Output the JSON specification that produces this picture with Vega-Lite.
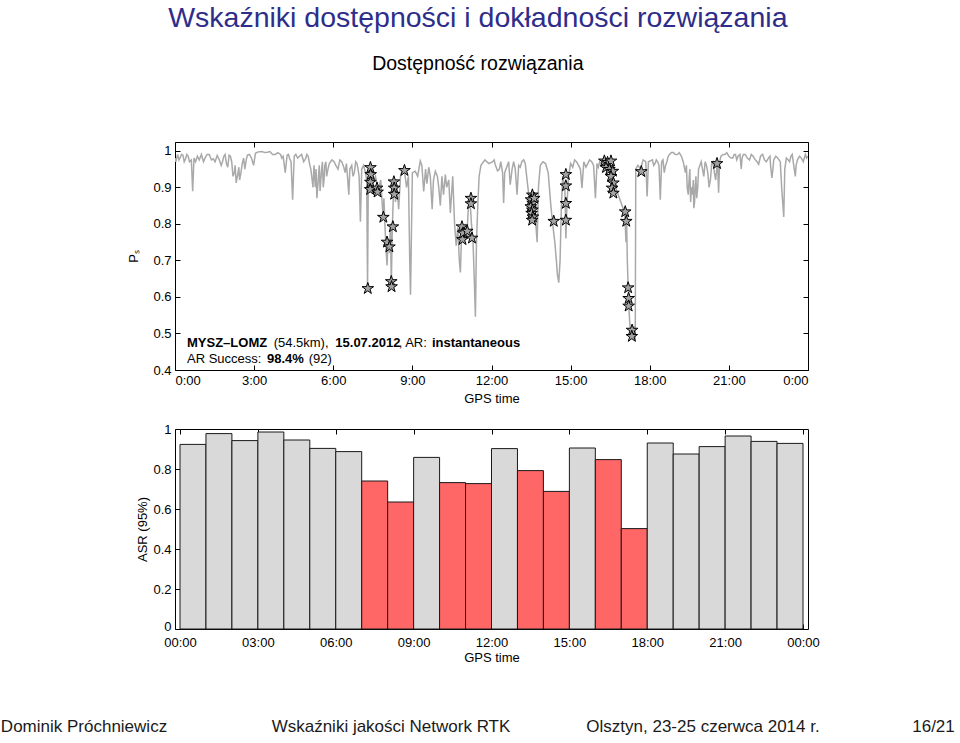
{
"$schema": "https://vega.github.io/schema/vega-lite/v6.json",
"background": "white",
"padding": {"left": 0, "top": 4, "right": 0, "bottom": 0},
"title": {"text": "Wskaźniki dostępności i dokładności rozwiązania", "subtitle": "Dostępność rozwiązania", "font": "Liberation Sans", "fontSize": 28.5, "fontWeight": "normal", "color": "#2e2e8a", "subtitleFont": "Liberation Sans", "subtitleFontSize": 19.5, "subtitleColor": "black", "subtitlePadding": 22, "anchor": "middle", "offset": 68},
"config": {
  "font": "Liberation Sans",
  "view": {"stroke": "black", "strokeWidth": 1},
  "axis": {"domain": false, "grid": false, "tickColor": "black", "tickSize": -5, "labelPadding": 9, "labelFontSize": 13, "labelColor": "black", "titleFontSize": 13, "titleColor": "black", "titleFontWeight": "normal", "labelFont": "Liberation Sans", "titleFont": "Liberation Sans"}
},
"bounds": "flush",
"spacing": 59,
"vconcat": [
{
  "width": 633, "height": 228,
  "layer": [
    {"data": {"values": [
{"t":0.0,"p":0.98},{"t":0.1,"p":0.99},{"t":0.2,"p":0.982},{"t":0.3,"p":0.988},{"t":0.4,"p":0.978},{"t":0.5,"p":0.985},{"t":0.62,"p":0.975},{"t":0.67,"p":0.889},{"t":0.72,"p":0.98},{"t":0.85,"p":0.985},{"t":1.0,"p":0.99},{"t":1.15,"p":0.982},{"t":1.3,"p":0.99},{"t":1.45,"p":0.978},{"t":1.6,"p":0.987},{"t":1.75,"p":0.96},{"t":1.85,"p":0.985},{"t":1.95,"p":0.965},{"t":2.05,"p":0.988},{"t":2.15,"p":0.97},{"t":2.25,"p":0.94},{"t":2.32,"p":0.912},{"t":2.38,"p":0.935},{"t":2.45,"p":0.92},{"t":2.55,"p":0.965},{"t":2.65,"p":0.95},{"t":2.75,"p":0.988},{"t":2.9,"p":0.98},{"t":2.98,"p":0.96},{"t":3.05,"p":0.993},{"t":3.3,"p":0.998},{"t":3.5,"p":0.996},{"t":3.7,"p":0.99},{"t":3.9,"p":0.995},{"t":4.1,"p":0.985},{"t":4.18,"p":0.94},{"t":4.25,"p":0.988},{"t":4.35,"p":0.978},{"t":4.46,"p":0.866},{"t":4.52,"p":0.985},{"t":4.65,"p":0.98},{"t":4.8,"p":0.99},{"t":4.95,"p":0.978},{"t":5.05,"p":0.985},{"t":5.15,"p":0.95},{"t":5.2,"p":0.92},{"t":5.27,"p":0.96},{"t":5.32,"p":0.9},{"t":5.38,"p":0.87},{"t":5.44,"p":0.93},{"t":5.5,"p":0.89},{"t":5.56,"p":0.95},{"t":5.62,"p":0.9},{"t":5.68,"p":0.96},{"t":5.75,"p":0.93},{"t":5.85,"p":0.965},{"t":5.95,"p":0.975},{"t":6.1,"p":0.96},{"t":6.25,"p":0.975},{"t":6.4,"p":0.955},{"t":6.5,"p":0.965},{"t":6.55,"p":0.92},{"t":6.59,"p":0.88},{"t":6.63,"p":0.95},{"t":6.7,"p":0.96},{"t":6.8,"p":0.94},{"t":6.9,"p":0.965},{"t":6.98,"p":0.93},{"t":7.03,"p":0.806},{"t":7.08,"p":0.95},{"t":7.15,"p":0.96},{"t":7.22,"p":0.94},{"t":7.27,"p":0.92},{"t":7.3,"p":0.623},{"t":7.33,"p":0.93},{"t":7.4,"p":0.955},{"t":7.5,"p":0.91},{"t":7.6,"p":0.93},{"t":7.7,"p":0.89},{"t":7.8,"p":0.92},{"t":7.89,"p":0.817},{"t":7.92,"p":0.87},{"t":7.97,"p":0.78},{"t":8.01,"p":0.72},{"t":8.04,"p":0.686},{"t":8.08,"p":0.76},{"t":8.13,"p":0.72},{"t":8.17,"p":0.8},{"t":8.2,"p":0.63},{"t":8.24,"p":0.79},{"t":8.28,"p":0.88},{"t":8.32,"p":0.91},{"t":8.36,"p":0.86},{"t":8.42,"p":0.9},{"t":8.48,"p":0.84},{"t":8.55,"p":0.93},{"t":8.62,"p":0.95},{"t":8.7,"p":0.945},{"t":8.78,"p":0.9},{"t":8.85,"p":0.93},{"t":8.9,"p":0.7},{"t":8.93,"p":0.606},{"t":8.96,"p":0.75},{"t":9.0,"p":0.94},{"t":9.11,"p":0.944},{"t":9.2,"p":0.93},{"t":9.3,"p":0.972},{"t":9.36,"p":0.96},{"t":9.43,"p":0.889},{"t":9.5,"p":0.95},{"t":9.55,"p":0.91},{"t":9.62,"p":0.955},{"t":9.68,"p":0.93},{"t":9.75,"p":0.84},{"t":9.8,"p":0.92},{"t":9.87,"p":0.944},{"t":9.95,"p":0.93},{"t":10.0,"p":0.9},{"t":10.06,"p":0.85},{"t":10.12,"p":0.93},{"t":10.18,"p":0.88},{"t":10.25,"p":0.935},{"t":10.3,"p":0.9},{"t":10.38,"p":0.92},{"t":10.44,"p":0.83},{"t":10.53,"p":0.93},{"t":10.6,"p":0.8},{"t":10.66,"p":0.74},{"t":10.72,"p":0.79},{"t":10.78,"p":0.7},{"t":10.82,"p":0.667},{"t":10.87,"p":0.78},{"t":10.93,"p":0.75},{"t":11.0,"p":0.8},{"t":11.06,"p":0.76},{"t":11.12,"p":0.84},{"t":11.18,"p":0.87},{"t":11.24,"p":0.8},{"t":11.3,"p":0.75},{"t":11.36,"p":0.62},{"t":11.39,"p":0.546},{"t":11.43,"p":0.75},{"t":11.48,"p":0.85},{"t":11.53,"p":0.93},{"t":11.6,"p":0.96},{"t":11.75,"p":0.975},{"t":11.9,"p":0.965},{"t":12.05,"p":0.97},{"t":12.15,"p":0.96},{"t":12.3,"p":0.95},{"t":12.42,"p":0.94},{"t":12.46,"p":0.857},{"t":12.5,"p":0.94},{"t":12.6,"p":0.96},{"t":12.71,"p":0.907},{"t":12.78,"p":0.95},{"t":12.9,"p":0.95},{"t":12.97,"p":0.88},{"t":13.03,"p":0.96},{"t":13.15,"p":0.97},{"t":13.28,"p":0.965},{"t":13.38,"p":0.9},{"t":13.45,"p":0.86},{"t":13.52,"p":0.82},{"t":13.58,"p":0.86},{"t":13.65,"p":0.83},{"t":13.73,"p":0.75},{"t":13.78,"p":0.9},{"t":13.85,"p":0.96},{"t":13.95,"p":0.97},{"t":14.05,"p":0.965},{"t":14.15,"p":0.94},{"t":14.25,"p":0.85},{"t":14.32,"p":0.8},{"t":14.4,"p":0.75},{"t":14.46,"p":0.7},{"t":14.5,"p":0.66},{"t":14.55,"p":0.639},{"t":14.6,"p":0.7},{"t":14.65,"p":0.85},{"t":14.7,"p":0.93},{"t":14.78,"p":0.9},{"t":14.82,"p":0.76},{"t":14.86,"p":0.85},{"t":14.92,"p":0.93},{"t":15.0,"p":0.965},{"t":15.15,"p":0.975},{"t":15.3,"p":0.96},{"t":15.43,"p":0.898},{"t":15.5,"p":0.97},{"t":15.65,"p":0.965},{"t":15.8,"p":0.97},{"t":15.94,"p":0.87},{"t":16.0,"p":0.965},{"t":16.1,"p":0.97},{"t":16.2,"p":0.975},{"t":16.3,"p":0.95},{"t":16.4,"p":0.97},{"t":16.5,"p":0.93},{"t":16.6,"p":0.89},{"t":16.7,"p":0.9},{"t":16.8,"p":0.88},{"t":16.95,"p":0.85},{"t":17.05,"p":0.83},{"t":17.1,"p":0.75},{"t":17.12,"p":0.82},{"t":17.15,"p":0.7},{"t":17.18,"p":0.63},{"t":17.2,"p":0.58},{"t":17.25,"p":0.52},{"t":17.3,"p":0.5},{"t":17.33,"p":0.49},{"t":17.37,"p":0.5},{"t":17.4,"p":0.52},{"t":17.45,"p":0.48},{"t":17.47,"p":0.95},{"t":17.55,"p":0.96},{"t":17.65,"p":0.95},{"t":17.75,"p":0.975},{"t":17.85,"p":0.97},{"t":17.9,"p":0.875},{"t":17.95,"p":0.97},{"t":18.1,"p":0.975},{"t":18.2,"p":0.965},{"t":18.35,"p":0.96},{"t":18.4,"p":0.866},{"t":18.45,"p":0.97},{"t":18.55,"p":0.94},{"t":18.6,"p":0.96},{"t":18.75,"p":0.99},{"t":18.9,"p":0.995},{"t":19.05,"p":0.99},{"t":19.2,"p":0.985},{"t":19.35,"p":0.94},{"t":19.42,"p":0.9},{"t":19.5,"p":0.93},{"t":19.55,"p":0.86},{"t":19.62,"p":0.88},{"t":19.67,"p":0.843},{"t":19.72,"p":0.9},{"t":19.78,"p":0.87},{"t":19.85,"p":0.95},{"t":19.95,"p":0.97},{"t":20.05,"p":0.93},{"t":20.15,"p":0.96},{"t":20.25,"p":0.9},{"t":20.35,"p":0.965},{"t":20.45,"p":0.94},{"t":20.55,"p":0.96},{"t":20.61,"p":0.885},{"t":20.7,"p":0.985},{"t":20.85,"p":0.99},{"t":21.0,"p":0.985},{"t":21.15,"p":0.98},{"t":21.25,"p":0.99},{"t":21.35,"p":0.985},{"t":21.47,"p":0.95},{"t":21.55,"p":0.99},{"t":21.7,"p":0.98},{"t":21.85,"p":0.99},{"t":22.0,"p":0.975},{"t":22.13,"p":0.963},{"t":22.2,"p":0.985},{"t":22.35,"p":0.975},{"t":22.5,"p":0.98},{"t":22.63,"p":0.926},{"t":22.7,"p":0.975},{"t":22.85,"p":0.98},{"t":22.95,"p":0.97},{"t":23.0,"p":0.9},{"t":23.05,"p":0.85},{"t":23.08,"p":0.819},{"t":23.12,"p":0.95},{"t":23.25,"p":0.975},{"t":23.35,"p":0.985},{"t":23.45,"p":0.965},{"t":23.52,"p":0.93},{"t":23.6,"p":0.975},{"t":23.75,"p":0.98},{"t":23.9,"p":0.99},{"t":24.0,"p":0.985},
{"t":0.03,"p":0.97},{"t":0.15,"p":0.975},{"t":0.25,"p":0.99},{"t":0.35,"p":0.97},{"t":0.45,"p":0.99},{"t":0.55,"p":0.97},{"t":0.78,"p":0.97},{"t":0.92,"p":0.975},{"t":1.08,"p":0.97},{"t":1.22,"p":0.99},{"t":1.38,"p":0.975},{"t":1.52,"p":0.97},{"t":1.68,"p":0.975},{"t":1.8,"p":0.97},{"t":1.9,"p":0.99},{"t":2.0,"p":0.955},{"t":2.1,"p":0.985},{"t":2.2,"p":0.93},{"t":2.28,"p":0.96},{"t":2.35,"p":0.925},{"t":2.42,"p":0.955},{"t":2.5,"p":0.94},{"t":2.6,"p":0.98},{"t":2.7,"p":0.975},{"t":2.82,"p":0.99},{"t":3.15,"p":0.997},{"t":3.4,"p":0.995},{"t":3.6,"p":0.998},{"t":3.8,"p":0.99},{"t":4.0,"p":0.99},{"t":4.05,"p":0.98},{"t":4.3,"p":0.99},{"t":4.4,"p":0.97},{"t":4.58,"p":0.99},{"t":4.72,"p":0.985},{"t":4.88,"p":0.97},{"t":5.0,"p":0.99},{"t":5.1,"p":0.965},{"t":5.23,"p":0.9},{"t":5.35,"p":0.95},{"t":5.41,"p":0.9},{"t":5.47,"p":0.96},{"t":5.53,"p":0.92},{"t":5.59,"p":0.97},{"t":5.65,"p":0.92},{"t":5.72,"p":0.97},{"t":5.8,"p":0.95},{"t":5.9,"p":0.97},
{"t":6.03,"p":0.97},{"t":6.18,"p":0.95},{"t":6.32,"p":0.97},{"t":6.45,"p":0.94},{"t":6.75,"p":0.93},{"t":6.85,"p":0.97},{"t":6.94,"p":0.95},
{"t":12.1,"p":0.975},{"t":12.23,"p":0.945},{"t":12.35,"p":0.97},{"t":12.55,"p":0.95},{"t":12.65,"p":0.97},{"t":12.84,"p":0.97},{"t":13.09,"p":0.955},{"t":13.22,"p":0.975},{"t":15.08,"p":0.955},{"t":15.22,"p":0.97},{"t":15.37,"p":0.95},{"t":15.58,"p":0.955},{"t":15.72,"p":0.975},{"t":15.87,"p":0.96},{"t":16.05,"p":0.955},{"t":16.15,"p":0.965},
{"t":18.15,"p":0.96},{"t":18.25,"p":0.975},{"t":18.3,"p":0.97},{"t":18.5,"p":0.975},{"t":18.65,"p":0.97},{"t":18.7,"p":0.985},{"t":18.82,"p":0.995},{"t":18.97,"p":0.99},{"t":19.12,"p":0.995},{"t":19.27,"p":0.97},{"t":19.39,"p":0.96},{"t":19.46,"p":0.88},{"t":19.52,"p":0.95},{"t":19.58,"p":0.9},{"t":19.65,"p":0.92},{"t":19.7,"p":0.86},{"t":19.75,"p":0.93},{"t":19.82,"p":0.9},{"t":19.9,"p":0.96},{"t":20.0,"p":0.95},{"t":20.1,"p":0.97},{"t":20.2,"p":0.94},{"t":20.3,"p":0.92},{"t":20.4,"p":0.97},{"t":20.5,"p":0.92},{"t":20.58,"p":0.95},{"t":20.65,"p":0.97},{"t":20.78,"p":0.99},{"t":20.92,"p":0.995},{"t":21.08,"p":0.98},{"t":21.2,"p":0.99},{"t":21.3,"p":0.975},{"t":21.42,"p":0.99},{"t":21.5,"p":0.98},{"t":21.62,"p":0.99},{"t":21.78,"p":0.975},{"t":21.92,"p":0.985},{"t":22.07,"p":0.97},{"t":22.28,"p":0.99},{"t":22.42,"p":0.97},{"t":22.56,"p":0.985},{"t":22.58,"p":0.96},{"t":22.67,"p":0.95},{"t":22.78,"p":0.985},{"t":22.9,"p":0.975},{"t":23.18,"p":0.98},{"t":23.3,"p":0.97},{"t":23.4,"p":0.99},{"t":23.55,"p":0.96},{"t":23.68,"p":0.985},{"t":23.82,"p":0.97},{"t":23.95,"p":0.98}
    ]},
    "mark": {"type": "line", "color": "#a9a9a9", "strokeWidth": 1.5, "clip": true},
    "encoding": {
      "x": {"field": "t", "type": "quantitative", "scale": {"domain": [0, 24], "nice": false, "zero": false},
            "axis": {"orient": "bottom", "values": [0,3,6,9,12,15,18,21,24], "labelExpr": "datum.value == 24 ? '0:00' : datum.value + ':00'", "title": "GPS time", "titlePadding": 5}},
      "y": {"field": "p", "type": "quantitative", "scale": {"domain": [0.4, 1.024], "nice": false, "zero": false},
            "axis": {"orient": "left", "values": [0.4,0.5,0.6,0.7,0.8,0.9,1], "format": "~g", "title": "Pₛ", "titlePadding": 12}}
    }},
    {"data": {"values": [
{"t":7.31,"p":0.623},{"t":7.41,"p":0.954},{"t":7.42,"p":0.935},{"t":7.41,"p":0.914},{"t":7.4,"p":0.894},{"t":7.66,"p":0.898},{"t":7.68,"p":0.887},{"t":7.9,"p":0.818},{"t":8.26,"p":0.792},{"t":8.04,"p":0.75},{"t":8.13,"p":0.737},{"t":8.2,"p":0.642},{"t":8.21,"p":0.628},{"t":8.3,"p":0.915},{"t":8.31,"p":0.898},{"t":8.31,"p":0.881},{"t":8.7,"p":0.946},{"t":10.88,"p":0.792},{"t":10.9,"p":0.757},{"t":10.92,"p":0.775},{"t":11.08,"p":0.78},{"t":11.26,"p":0.761},{"t":11.22,"p":0.87},{"t":11.22,"p":0.855},{"t":13.55,"p":0.879},{"t":13.5,"p":0.866},{"t":13.56,"p":0.857},{"t":13.49,"p":0.847},{"t":13.55,"p":0.838},{"t":13.52,"p":0.829},{"t":13.57,"p":0.819},{"t":13.54,"p":0.81},{"t":13.62,"p":0.87},{"t":14.36,"p":0.807},{"t":14.82,"p":0.935},{"t":14.82,"p":0.904},{"t":14.82,"p":0.856},{"t":14.82,"p":0.81},{"t":16.28,"p":0.972},{"t":16.4,"p":0.968},{"t":16.53,"p":0.972},{"t":16.34,"p":0.954},{"t":16.47,"p":0.949},{"t":16.6,"p":0.944},{"t":16.53,"p":0.93},{"t":16.62,"p":0.912},{"t":16.57,"p":0.898},{"t":16.62,"p":0.884},{"t":17.07,"p":0.833},{"t":17.11,"p":0.807},{"t":17.18,"p":0.625},{"t":17.2,"p":0.596},{"t":17.2,"p":0.575},{"t":17.33,"p":0.509},{"t":17.32,"p":0.492},{"t":17.68,"p":0.943},{"t":20.55,"p":0.965}
    ]},
    "mark": {"type": "point", "shape": "M0,-1L0.225,-0.309L0.951,-0.309L0.363,0.118L0.588,0.809L0,0.382L-0.588,0.809L-0.363,0.118L-0.951,-0.309L-0.225,-0.309Z", "size": 150, "filled": true, "fill": "#a3a3a3", "fillOpacity": 1, "opacity": 1, "stroke": "black", "strokeWidth": 1},
    "encoding": {
      "x": {"field": "t", "type": "quantitative", "axis": {"orient": "top", "values": [0,3,6,9,12,15,18,21,24], "labels": false, "title": null}},
      "y": {"field": "p", "type": "quantitative", "axis": {"orient": "right", "values": [0.4,0.5,0.6,0.7,0.8,0.9,1], "labels": false, "title": null}}
    }},
    {"data": {"values": [{}]}, "mark": {"type": "text", "text": "MYSZ–LOMZ", "align": "left", "baseline": "alphabetic", "fontSize": 13, "fontWeight": "bold", "color": "black"},
     "encoding": {"x": {"datum": 0.455, "type": "quantitative", "axis": null}, "y": {"datum": 0.4639, "type": "quantitative", "axis": null}}},
    {"data": {"values": [{}]}, "mark": {"type": "text", "text": "(54.5km),", "align": "left", "baseline": "alphabetic", "fontSize": 13, "color": "black"},
     "encoding": {"x": {"datum": 3.74, "type": "quantitative", "axis": null}, "y": {"datum": 0.4639, "type": "quantitative", "axis": null}}},
    {"data": {"values": [{}]}, "mark": {"type": "text", "text": "15.07.2012", "align": "left", "baseline": "alphabetic", "fontSize": 13, "fontWeight": "bold", "color": "black"},
     "encoding": {"x": {"datum": 6.078, "type": "quantitative", "axis": null}, "y": {"datum": 0.4639, "type": "quantitative", "axis": null}}},
    {"data": {"values": [{}]}, "mark": {"type": "text", "text": ", AR:", "align": "left", "baseline": "alphabetic", "fontSize": 13, "color": "black"},
     "encoding": {"x": {"datum": 8.48, "type": "quantitative", "axis": null}, "y": {"datum": 0.4639, "type": "quantitative", "axis": null}}},
    {"data": {"values": [{}]}, "mark": {"type": "text", "text": "instantaneous", "align": "left", "baseline": "alphabetic", "fontSize": 13, "fontWeight": "bold", "color": "black"},
     "encoding": {"x": {"datum": 9.744, "type": "quantitative", "axis": null}, "y": {"datum": 0.4639, "type": "quantitative", "axis": null}}},
    {"data": {"values": [{}]}, "mark": {"type": "text", "text": "AR Success:", "align": "left", "baseline": "alphabetic", "fontSize": 13, "color": "black"},
     "encoding": {"x": {"datum": 0.455, "type": "quantitative", "axis": null}, "y": {"datum": 0.4194, "type": "quantitative", "axis": null}}},
    {"data": {"values": [{}]}, "mark": {"type": "text", "text": "98.4%", "align": "left", "baseline": "alphabetic", "fontSize": 13, "fontWeight": "bold", "color": "black"},
     "encoding": {"x": {"datum": 3.49, "type": "quantitative", "axis": null}, "y": {"datum": 0.4194, "type": "quantitative", "axis": null}}},
    {"data": {"values": [{}]}, "mark": {"type": "text", "text": "(92)", "align": "left", "baseline": "alphabetic", "fontSize": 13, "color": "black"},
     "encoding": {"x": {"datum": 5.07, "type": "quantitative", "axis": null}, "y": {"datum": 0.4194, "type": "quantitative", "axis": null}}}
  ],
  "resolve": {"axis": {"x": "independent", "y": "independent"}}
},
{
  "width": 633, "height": 200,
  "data": {"values": [
{"start":0,"end":1,"asr":0.923},{"start":1,"end":2,"asr":0.977},{"start":2,"end":3,"asr":0.942},{"start":3,"end":4,"asr":0.985},{"start":4,"end":5,"asr":0.945},{"start":5,"end":6,"asr":0.903},{"start":6,"end":7,"asr":0.887},{"start":7,"end":8,"asr":0.74},{"start":8,"end":9,"asr":0.635},{"start":9,"end":10,"asr":0.858},{"start":10,"end":11,"asr":0.732},{"start":11,"end":12,"asr":0.727},{"start":12,"end":13,"asr":0.902},{"start":13,"end":14,"asr":0.792},{"start":14,"end":15,"asr":0.688},{"start":15,"end":16,"asr":0.905},{"start":16,"end":17,"asr":0.847},{"start":17,"end":18,"asr":0.502},{"start":18,"end":19,"asr":0.93},{"start":19,"end":20,"asr":0.875},{"start":20,"end":21,"asr":0.912},{"start":21,"end":22,"asr":0.965},{"start":22,"end":23,"asr":0.938},{"start":23,"end":24,"asr":0.928}
  ]},
  "layer": [
    {"mark": {"type": "bar", "stroke": "#1a1a1a", "strokeWidth": 1, "orient": "vertical"},
     "encoding": {
       "x": {"field": "start", "type": "quantitative", "scale": {"domain": [0, 24], "nice": false, "zero": false},
             "axis": {"orient": "bottom", "values": [0,3,6,9,12,15,18,21,24], "labelExpr": "(datum.value % 24 < 10 ? '0' : '') + (datum.value % 24) + ':00'", "title": "GPS time", "titlePadding": 2, "labelPadding": 12}},
       "x2": {"field": "end"},
       "y": {"field": "asr", "type": "quantitative", "scale": {"domain": [0, 1], "nice": false},
             "axis": {"orient": "left", "values": [0,0.2,0.4,0.6,0.8,1], "format": "~g", "title": "ASR (95%)", "titlePadding": 3, "labelOffset": {"condition": {"test": "datum.value === 0", "value": -3}, "value": 0}}},
       "y2": {"datum": 0},
       "color": {"condition": {"test": "datum.asr < 0.85", "value": "#ff6666"}, "value": "#d9d9d9"}
     }},
    {"mark": {"type": "bar", "opacity": 0, "orient": "vertical"},
     "encoding": {
       "x": {"field": "start", "type": "quantitative", "axis": {"orient": "top", "values": [0,3,6,9,12,15,18,21,24], "labels": false, "title": null}},
       "x2": {"field": "end"},
       "y": {"field": "asr", "type": "quantitative", "axis": {"orient": "left", "values": [0,0.2,0.4,0.6,0.8,1], "format": "~g", "title": "ASR (95%)", "titlePadding": 3, "labelOffset": {"condition": {"test": "datum.value === 0", "value": -3}, "value": 0}}},
       "y2": {"datum": 0}
     }}
  ],
  "resolve": {"axis": {"x": "independent"}}
},
{
  "width": 633, "height": 78,
  "view": {"stroke": null},
  "data": {"values": [
    {"slot": 1, "label": "Dominik Próchniewicz"},
    {"slot": 2, "label": "Wskaźniki jakości Network RTK"},
    {"slot": 3, "label": "Olsztyn, 23-25 czerwca 2014 r."},
    {"slot": 4, "label": "16/21"}
  ]},
  "mark": {"type": "text", "align": "center", "baseline": "middle", "fontSize": 17, "font": "Liberation Sans", "color": "#1a1a1a"},
  "encoding": {
    "x": {"field": "slot", "type": "quantitative", "scale": {"domain": [1, 2, 3, 4], "range": [-91, 216, 528, 758.5], "nice": false, "zero": false}, "axis": null},
    "text": {"field": "label"}
  }
}
]
}
